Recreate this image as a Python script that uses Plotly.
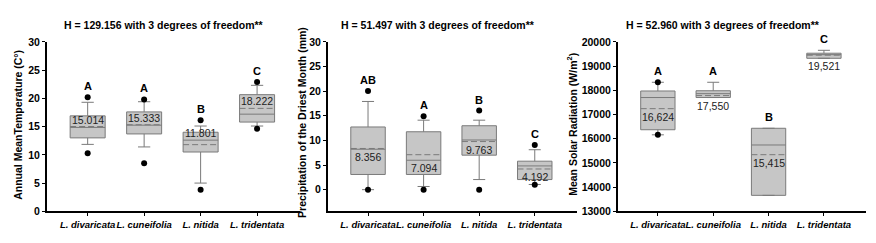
import plotly.graph_objects as go

W, H = 876, 243
FONT = "Arial, 'Liberation Sans', sans-serif"

species = ["L. divaricata", "L. cuneifolia", "L. nitida", "L. tridentata"]

# Panel 1: Annual mean temperature
temp_q1 = [13.0, 13.7, 10.5, 15.8]
temp_median = [14.85, 15.25, 12.6, 17.2]
temp_q3 = [16.9, 17.6, 14.0, 20.65]
temp_low = [11.85, 11.4, 5.0, 15.1]
temp_high = [19.3, 19.4, 15.1, 22.3]
temp_mean = [15.014, 15.333, 11.801, 18.222]
temp_outliers = [[20.2, 10.3], [19.8, 8.5], [16.1, 3.8], [22.9, 14.6]]
temp_letters = ["A", "A", "B", "C"]
temp_labels = ["15.014", "15.333", "11.801", "18.222"]
temp_title = "H = 129.156 with 3 degrees of freedom**"
temp_ytitle = "Annual MeanTemperature (C°)"
temp_ticks = [0, 5, 10, 15, 20, 25, 30]

# Panel 2: Precipitation of the driest month
prec_q1 = [3.08, 3.08, 7.0, 2.05]
prec_median = [8.2, 5.97, 10.08, 4.82]
prec_q3 = [12.72, 11.75, 12.97, 5.78]
prec_low = [0.0, 0.64, 2.05, 1.05]
prec_high = [17.9, 14.1, 14.1, 8.1]
prec_mean = [8.356, 7.094, 9.763, 4.192]
prec_outliers = [[20.0, 0.0], [14.9, 0.0], [16.06, 0.0], [9.06, 1.0]]
prec_letters = ["AB", "A", "B", "C"]
prec_labels = ["8.356", "7.094", "9.763", "4.192"]
prec_title = "H = 51.497 with 3 degrees of freedom**"
prec_ytitle = "Precipitation of the Driest Month (mm)"
prec_ticks = [0, 5, 10, 15, 20, 25, 30]

# Panel 3: Mean solar radiation
rad_q1 = [16370, 17700, 13660, 19320]
rad_median = [17700, 17860, 15740, 19470]
rad_q3 = [17970, 17980, 16430, 19530]
rad_low = [16160, 17700, 13660, 19320]
rad_high = [18330, 18330, 16430, 19650]
rad_mean = [17240, 17780, 15340, 19450]
rad_outliers = [[18330, 16160], [], [], []]
rad_letters = ["A", "A", "B", "C"]
rad_labels = ["16,624", "17,550", "15,415", "19,521"]
rad_title = "H = 52.960 with 3 degrees of freedom**"
rad_ytitle = "Mean Solar Radiation (W/m<sup>2</sup>)"
rad_ticks = [13000, 14000, 15000, 16000, 17000, 18000, 19000, 20000]

panels = [
    dict(q1=temp_q1, med=temp_median, q3=temp_q3, lo=temp_low, hi=temp_high,
         mean=temp_mean, out=temp_outliers, let=temp_letters, lab=temp_labels,
         title=temp_title, ytitle=temp_ytitle, ticks=temp_ticks,
         rng=[0, 30], xd=(47, 300), label_side="above",
         title_x=164, ytitle_x=18, ytitle_y=125),
    dict(q1=prec_q1, med=prec_median, q3=prec_q3, lo=prec_low, hi=prec_high,
         mean=prec_mean, out=prec_outliers, let=prec_letters, lab=prec_labels,
         title=prec_title, ytitle=prec_ytitle, ticks=prec_ticks,
         rng=[-4.4, 30], xd=(328, 577), label_side="below",
         title_x=438, ytitle_x=302, ytitle_y=123),
    dict(q1=rad_q1, med=rad_median, q3=rad_q3, lo=rad_low, hi=rad_high,
         mean=rad_mean, out=rad_outliers, let=rad_letters, lab=rad_labels,
         title=rad_title, ytitle=rad_ytitle, ticks=rad_ticks,
         rng=[13000, 20000], xd=(618, 866), label_side="below",
         title_x=723, ytitle_x=572, ytitle_y=125),
]

BOX_W = 0.62
LINE_C = "#7a7a7a"
TOP_PX, BOT_PX = 37.7, 216.0
ydom = [1 - BOT_PX / H, 1 - TOP_PX / H]
pos = list(range(len(species)))

fig = go.Figure()
annotations = []
layout = {}

for i, p in enumerate(panels):
    n = "" if i == 0 else str(i + 1)
    xa, ya = "x" + n, "y" + n
    fig.add_trace(go.Box(
        x=pos, q1=p["q1"], median=p["med"], q3=p["q3"],
        lowerfence=p["lo"], upperfence=p["hi"],
        boxpoints=False, width=BOX_W, whiskerwidth=0.35,
        fillcolor="#c6c6c6", line=dict(color=LINE_C, width=1),
        xaxis=xa, yaxis=ya, showlegend=False, hoverinfo="skip",
    ))
    # dashed mean lines
    mx, my = [], []
    for j, m in enumerate(p["mean"]):
        mx += [pos[j] - BOX_W / 2, pos[j] + BOX_W / 2, None]
        my += [m, m, None]
    fig.add_trace(go.Scatter(
        x=mx, y=my, mode="lines",
        line=dict(color=LINE_C, width=1, dash="6px,3px"),
        xaxis=xa, yaxis=ya, showlegend=False, hoverinfo="skip",
    ))
    ox, oy = [], []
    for j, vals in enumerate(p["out"]):
        for v in vals:
            ox.append(pos[j])
            oy.append(v)
    fig.add_trace(go.Scatter(
        x=ox, y=oy, mode="markers", marker=dict(color="black", size=6),
        xaxis=xa, yaxis=ya, showlegend=False, hoverinfo="skip",
    ))
    span = p["rng"][1] - p["rng"][0]
    for j in pos:
        top = max([p["hi"][j], p["q3"][j]] + p["out"][j])
        annotations.append(dict(
            x=j, y=top, xref=xa, yref=ya, text="<b>" + p["let"][j] + "</b>",
            showarrow=False, xanchor="center", yanchor="bottom", yshift=3,
            font=dict(family=FONT, size=11, color="black"),
        ))
        if p["label_side"] == "above":
            yv = max(p["mean"][j], p["med"][j])
            anc, sh = "bottom", -1
        else:
            if (p["q3"][j] - p["q1"][j]) < 0.06 * span:
                yv = p["q1"][j]
            else:
                yv = min(p["mean"][j], p["med"][j])
            anc, sh = "top", 0
        annotations.append(dict(
            x=j, y=yv, xref=xa, yref=ya, text=p["lab"][j],
            showarrow=False, xanchor="center", yanchor=anc, yshift=sh,
            font=dict(family=FONT, size=10.5, color="#222222"),
        ))
    annotations.append(dict(
        x=p["title_x"] / W, y=1 - 20 / H, xref="paper", yref="paper",
        xanchor="center", yanchor="middle",
        text="<b>" + p["title"] + "</b>", showarrow=False,
        font=dict(family=FONT, size=10.5, color="black"),
    ))
    annotations.append(dict(
        x=p["ytitle_x"] / W, y=1 - p["ytitle_y"] / H, xref="paper", yref="paper",
        xanchor="center", yanchor="middle",
        text="<b>" + p["ytitle"] + "</b>", showarrow=False, textangle=-90,
        font=dict(family=FONT, size=10.5, color="black"),
    ))
    layout["xaxis" + n] = dict(
        domain=[p["xd"][0] / W, p["xd"][1] / W], anchor=ya,
        range=[-0.72, 3.76], tickvals=pos, ticktext=species,
        showline=True, linecolor="black", linewidth=2,
        ticks="outside", ticklen=3, tickcolor="black", showgrid=False,
        tickangle=0, zeroline=False,
        tickfont=dict(family=FONT, size=9.5, color="black",
                      weight="bold", style="italic"),
        fixedrange=True,
    )
    layout["yaxis" + n] = dict(
        domain=ydom, anchor=xa, range=p["rng"], tickvals=p["ticks"],
        tickformat="d", showline=True, linecolor="black", linewidth=2,
        ticks="outside", ticklen=3, tickcolor="black", showgrid=False,
        zeroline=False, tickfont=dict(family=FONT, size=10.5, color="black",
                                      weight="bold"),
        fixedrange=True,
    )

fig.update_layout(
    width=W, height=H, margin=dict(l=0, r=0, t=0, b=0),
    paper_bgcolor="white", plot_bgcolor="white",
    annotations=annotations, showlegend=False, **layout,
)

fig.write_html(
    "out.html",
    config={"displayModeBar": False, "staticPlot": True},
    post_script="document.body.style.margin='0';document.body.style.padding='0';",
)
